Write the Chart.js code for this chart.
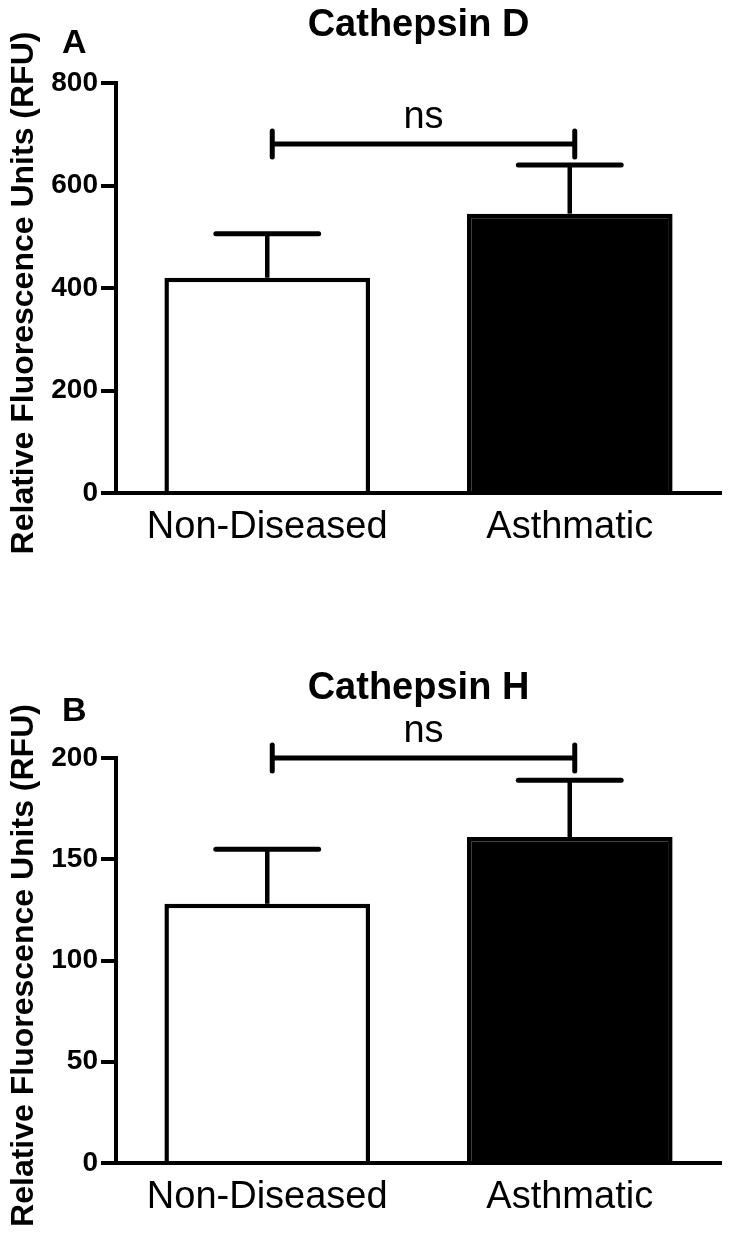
<!DOCTYPE html>
<html>
<head>
<meta charset="utf-8">
<script src="https://cdn.jsdelivr.net/npm/chart.js@4.4.1/dist/chart.umd.min.js"></script>
<style>
  body { margin: 0; background: #fff; }
  canvas { position: absolute; left: 0; }
  #panelA { top: 0; }
  #panelB { top: 600px; }
</style>
</head>
<body>
<canvas id="panelA" width="733" height="600"></canvas>
<canvas id="panelB" width="733" height="636"></canvas>
<script>
// 2群の比較（平均 + SEM）
const groups = ['Non-Diseased', 'Asthmatic'];

const cathDMean = [420, 545];
const cathDSem = [86, 95];
const cathDTicks = [0, 200, 400, 600, 800];
const cathDSig = 681;

const cathHMean = [128, 161];
const cathHSem = [27, 28];
const cathHTicks = [0, 50, 100, 150, 200];
const cathHSig = 200;

const sigLabel = 'ns';
const yTitle = 'Relative Fluorescence Units (RFU)';

const FONT = '"Liberation Sans", Arial, sans-serif';

// エラーバー・有意差ブラケット・文字
const extras = {
  id: 'extras',
  afterDatasetsDraw(chart, args, opts) {
    const ctx = chart.ctx;
    const y = chart.scales.y;
    const bars = chart.getDatasetMeta(0).data;
    ctx.save();
    ctx.strokeStyle = '#000';
    bars.forEach((bar, i) => {
      const top = y.getPixelForValue(opts.mean[i]);
      const end = y.getPixelForValue(opts.mean[i] + opts.sem[i]);
      const half = bar.width / 4;
      ctx.lineWidth = 4.5;
      ctx.lineCap = 'butt';
      ctx.beginPath();
      ctx.moveTo(bar.x, top);
      ctx.lineTo(bar.x, end);
      ctx.stroke();
      ctx.lineWidth = 5;
      ctx.lineCap = 'round';
      ctx.beginPath();
      ctx.moveTo(bar.x - half, end);
      ctx.lineTo(bar.x + half, end);
      ctx.stroke();
    });

    // ブラケット
    const sy = y.getPixelForValue(opts.sig);
    const x0 = bars[0].x + 5;
    const x1 = bars[1].x + 5;
    ctx.lineWidth = 5;
    ctx.lineCap = 'round';
    ctx.beginPath();
    ctx.moveTo(x0, sy);
    ctx.lineTo(x1, sy);
    ctx.moveTo(x0, sy - 13);
    ctx.lineTo(x0, sy + 13);
    ctx.moveTo(x1, sy - 13);
    ctx.lineTo(x1, sy + 13);
    ctx.stroke();

    ctx.fillStyle = '#000';
    ctx.textAlign = 'center';
    ctx.textBaseline = 'alphabetic';
    ctx.font = '38px ' + FONT;
    ctx.fillText(sigLabel, (x0 + x1) / 2, sy - 16);
    ctx.restore();
  },
  afterDraw(chart, args, opts) {
    const ctx = chart.ctx;
    const area = chart.chartArea;
    ctx.save();
    ctx.fillStyle = '#000';
    ctx.textBaseline = 'alphabetic';

    ctx.textAlign = 'center';
    ctx.font = 'bold 38px ' + FONT;
    ctx.fillText(opts.title, (area.left + area.right) / 2, area.top - opts.titleGap);

    ctx.textAlign = 'left';
    ctx.font = 'bold 34px ' + FONT;
    ctx.fillText(opts.letter, 62, area.top - opts.letterGap);

    ctx.translate(33, (area.top + area.bottom) / 2 + 5);
    ctx.rotate(-Math.PI / 2);
    ctx.textAlign = 'center';
    ctx.font = 'bold 32px ' + FONT;
    ctx.fillText(yTitle, 0, 0);
    ctx.restore();
  }
};

function makePanel(id, mean, sem, ticks, sig, title, letter, pad, gaps) {
  const ctx = document.getElementById(id).getContext('2d');
  return new Chart(ctx, {
    type: 'bar',
    data: {
      labels: groups,
      datasets: [{
        data: mean,
        backgroundColor: ['#fff', '#000'],
        borderColor: '#000',
        borderWidth: 4.5,
        borderSkipped: 'start',
        barPercentage: 0.68,
        categoryPercentage: 1
      }]
    },
    options: {
      responsive: false,
      animation: false,
      devicePixelRatio: 1,
      layout: { padding: pad },
      plugins: {
        legend: { display: false },
        tooltip: { enabled: false },
        extras: {
          mean: mean, sem: sem, sig: sig,
          title: title, letter: letter,
          titleGap: gaps[0], letterGap: gaps[1]
        }
      },
      scales: {
        x: {
          grid: { display: false, drawTicks: false },
          border: { display: true, color: '#000', width: 4 },
          ticks: { color: '#000', padding: 12, font: { family: FONT, size: 38 } },
          afterFit(scale) { scale.height = 60; }
        },
        y: {
          min: ticks[0],
          max: ticks[ticks.length - 1],
          afterBuildTicks(scale) { scale.ticks = ticks.map(v => ({ value: v })); },
          grid: { display: true, drawOnChartArea: false, drawTicks: true, tickLength: 15, lineWidth: 4, color: '#000' },
          border: { display: true, color: '#000', width: 4 },
          ticks: { color: '#000', padding: 3, font: { family: FONT, size: 28, weight: 'bold' } },
          afterFit(scale) { scale.width = 116; }
        }
      }
    },
    plugins: [extras]
  });
}

makePanel('panelA', cathDMean, cathDSem, cathDTicks, cathDSig, 'Cathepsin D', 'A',
  { top: 83, left: 0, right: 12, bottom: 47 }, [47, 30]);
makePanel('panelB', cathHMean, cathHSem, cathHTicks, cathHSig, 'Cathepsin H', 'B',
  { top: 158, left: 0, right: 12, bottom: 13 }, [59, 37]);
</script>
</body>
</html>
